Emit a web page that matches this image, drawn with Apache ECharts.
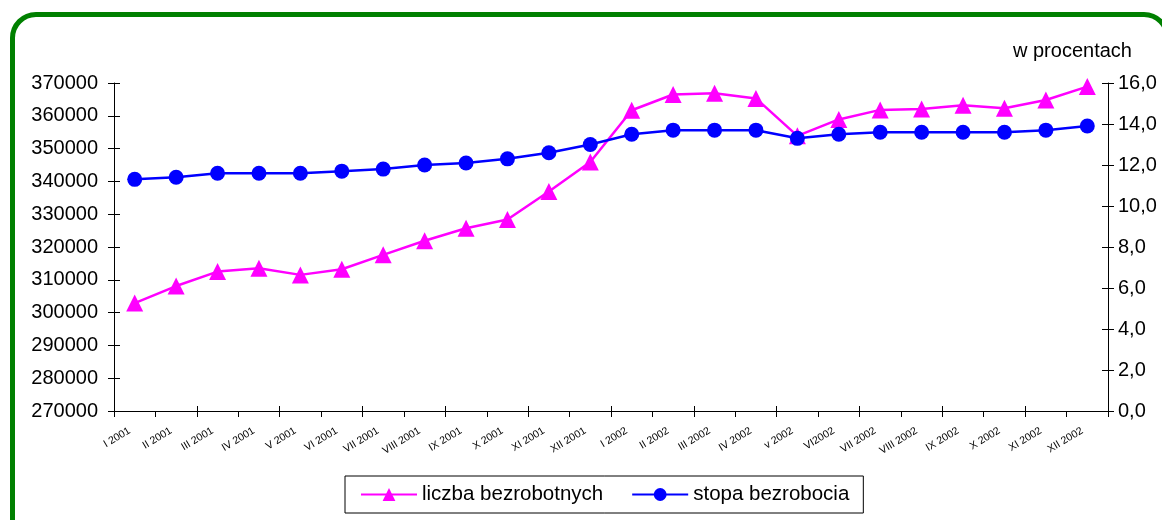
<!DOCTYPE html>
<html>
<head>
<meta charset="utf-8">
<script src="https://cdn.jsdelivr.net/npm/echarts@6/dist/echarts.min.js"></script>
<style>
  html, body { margin: 0; padding: 0; background: #fff; }
  #frame { position: absolute; left: 10px; top: 12px; width: 1160px; height: 540px;
           border: 5px solid #008000; border-radius: 26px; box-sizing: border-box; }
  #chart { position: absolute; left: 0; top: 0; width: 1162px; height: 520px; }
</style>
</head>
<body>
<div id="frame"></div>
<div id="chart"></div>
<script>
// miesiące 2001-2002
const months = ['I 2001', 'II 2001', 'III 2001', 'IV 2001', 'V 2001', 'VI 2001', 'VII 2001', 'VIII 2001',
  'IX 2001', 'X 2001', 'XI 2001', 'XII 2001', 'I 2002', 'II 2002', 'III 2002', 'IV 2002', 'v 2002',
  'VI2002', 'VII 2002', 'VIII 2002', 'IX 2002', 'X 2002', 'XI 2002', 'XII 2002']

// liczba bezrobotnych (oś lewa)
const liczba = [302900, 308100, 312500, 313500, 311500, 313200, 317600, 321900, 325700, 328400, 336900, 345900,
  361700, 366500, 366900, 365300, 353900, 358900, 361800, 362100, 363200, 362300, 364800, 368900]

// stopa bezrobocia w % (oś prawa)
const stopa = [11.3, 11.4, 11.6, 11.6, 11.6, 11.7, 11.8, 12.0, 12.1, 12.3, 12.6, 13.0,
  13.5, 13.7, 13.7, 13.7, 13.3, 13.5, 13.6, 13.6, 13.6, 13.6, 13.7, 13.9]

const font = 'Liberation Sans, Arial, sans-serif'
const chart = echarts.init(document.getElementById('chart'), null, { renderer: 'canvas' })

const lineStyle = { color: '#000', width: 1 }

chart.setOption({
  backgroundColor: 'transparent',
  animation: false,
  textStyle: { fontFamily: font, color: '#000' },
  grid: { left: 114, right: 54, top: 83, bottom: 109 },
  xAxis: [
    {
      type: 'category', data: months, boundaryGap: true,
      axisLine: { lineStyle },
      axisTick: { show: true, length: 6, lineStyle },
      axisLabel: { interval: 0, rotate: 31, fontSize: 10.5, color: '#000', margin: 16, fontFamily: font,
        padding: [0, 6, 0, 0] },
    },
    { // kreski do wewnątrz
      type: 'category', data: months, position: 'bottom', boundaryGap: true,
      axisLine: { show: false },
      axisTick: { show: true, inside: true, length: 5, lineStyle },
      axisLabel: { show: false },
    },
  ],
  yAxis: [
    {
      type: 'value', min: 270000, max: 370000, interval: 10000, position: 'left',
      axisLine: { show: true, lineStyle },
      axisTick: { show: true, length: 6, lineStyle },
      splitLine: { show: false },
      axisLabel: { fontSize: 20, color: '#000', margin: 16, fontFamily: font, formatter: v => String(v) },
    },
    {
      type: 'value', min: 0, max: 16, interval: 2, position: 'right',
      axisLine: { show: true, lineStyle },
      axisTick: { show: true, length: 6, lineStyle },
      splitLine: { show: false },
      axisLabel: { fontSize: 20, color: '#000', margin: 10, fontFamily: font,
        formatter: v => v.toFixed(1).replace('.', ',') },
    },
    {
      type: 'value', min: 270000, max: 370000, interval: 10000, position: 'left',
      axisLine: { show: false }, axisLabel: { show: false }, splitLine: { show: false },
      axisTick: { show: true, inside: true, length: 6, lineStyle },
    },
    {
      type: 'value', min: 0, max: 16, interval: 2, position: 'right',
      axisLine: { show: false }, axisLabel: { show: false }, splitLine: { show: false },
      axisTick: { show: true, inside: true, length: 6, lineStyle },
    },
  ],
  legend: {
    left: 345, top: 476,
    orient: 'horizontal',
    padding: [8, 14, 8, 15],
    borderColor: '#000', borderWidth: 1,
    itemWidth: 56, itemHeight: 16, itemGap: 28,
    textStyle: { fontSize: 20.5, color: '#000', fontFamily: font },
    data: ['liczba bezrobotnych', 'stopa bezrobocia'],
  },
  graphic: [
    { type: 'text', left: 1013, top: 41, style: { text: 'w procentach', fill: '#000', font: '20px ' + font } },
  ],
  series: [
    {
      name: 'liczba bezrobotnych', type: 'line', data: liczba, yAxisIndex: 0,
      symbol: 'triangle', symbolSize: 17,
      lineStyle: { color: '#ff00ff', width: 2.5 },
      itemStyle: { color: '#ff00ff' },
    },
    {
      name: 'stopa bezrobocia', type: 'line', data: stopa, yAxisIndex: 1,
      symbol: 'circle', symbolSize: 15,
      lineStyle: { color: '#0000ff', width: 2.5 },
      itemStyle: { color: '#0000ff' },
    },
  ],
})
</script>
</body>
</html>
